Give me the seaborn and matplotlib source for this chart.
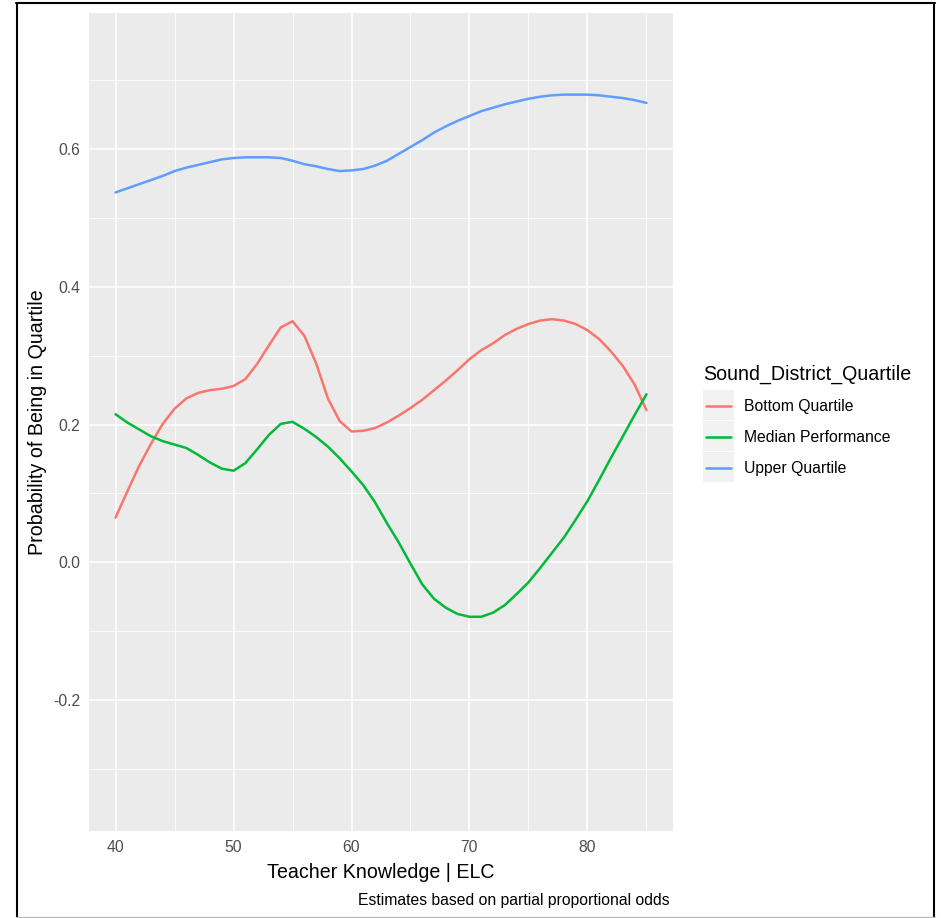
import numpy as np
import pandas as pd
import matplotlib
matplotlib.use("Agg")
import matplotlib.pyplot as plt
from matplotlib.patches import Rectangle
from matplotlib.lines import Line2D
from matplotlib.ticker import FixedLocator
import seaborn as sns

# Predicted probabilities by teacher knowledge score
knowledge = list(range(40, 86))

bottom_quartile = [
    0.065, 0.103, 0.140, 0.172, 0.201, 0.223, 0.238, 0.246, 0.250, 0.252,
    0.256, 0.266, 0.288, 0.315, 0.341, 0.350, 0.329, 0.289, 0.238, 0.205,
    0.190, 0.191, 0.195, 0.203, 0.213, 0.224, 0.236, 0.250, 0.264, 0.279,
    0.295, 0.308, 0.318, 0.330, 0.339, 0.346, 0.351, 0.353, 0.351, 0.346,
    0.337, 0.324, 0.306, 0.285, 0.258, 0.221,
]
median_performance = [
    0.215, 0.203, 0.193, 0.183, 0.176, 0.171, 0.166, 0.156, 0.145, 0.136,
    0.133, 0.144, 0.164, 0.185, 0.201, 0.204, 0.194, 0.182, 0.168, 0.151,
    0.132, 0.112, 0.087, 0.057, 0.029, -0.002, -0.032, -0.053, -0.066, -0.075,
    -0.079, -0.079, -0.073, -0.062, -0.046, -0.029, -0.008, 0.014, 0.036, 0.062,
    0.089, 0.120, 0.152, 0.183, 0.214, 0.244,
]
upper_quartile = [
    0.537, 0.543, 0.549, 0.555, 0.561, 0.568, 0.573, 0.577, 0.581, 0.585,
    0.587, 0.588, 0.588, 0.588, 0.587, 0.583, 0.578, 0.575, 0.571, 0.568,
    0.569, 0.571, 0.576, 0.583, 0.593, 0.603, 0.613, 0.624, 0.633, 0.641,
    0.648, 0.655, 0.660, 0.665, 0.669, 0.673, 0.676, 0.678, 0.679, 0.679,
    0.679, 0.678, 0.676, 0.674, 0.671, 0.667,
]

quartile_names = ["Bottom Quartile", "Median Performance", "Upper Quartile"]
quartile_colors = ["#F8766D", "#00BA38", "#619CFF"]

x_ticks = [40, 50, 60, 70, 80]
x_minor = [45, 55, 65, 75, 85]
y_ticks = [-0.2, 0.0, 0.2, 0.4, 0.6]
y_tick_labels = ["-0.2", "0.0", "0.2", "0.4", "0.6"]
y_minor = [-0.3, -0.1, 0.1, 0.3, 0.5, 0.7]

df = pd.concat([
    pd.DataFrame({"knowledge": knowledge, "prob": vals, "Sound_District_Quartile": name})
    for name, vals in zip(quartile_names, [bottom_quartile, median_performance, upper_quartile])
], ignore_index=True)

sns.set_theme(style="white")
plt.rcParams["font.family"] = ["Liberation Sans", "DejaVu Sans"]

W, H = 941, 918
fig = plt.figure(figsize=(W / 100, H / 100), dpi=100)

def fx(px):
    return px / W

def fy(py):
    return 1 - py / H

left, right, top, bottom = 89, 673, 13, 831
ax = fig.add_axes([fx(left), fy(bottom), fx(right) - fx(left), fy(top) - fy(bottom)])
ax.set_facecolor("#EBEBEB")
for s in ax.spines.values():
    s.set_visible(False)

sns.lineplot(
    data=df, x="knowledge", y="prob", hue="Sound_District_Quartile",
    hue_order=quartile_names, palette=dict(zip(quartile_names, quartile_colors)),
    linewidth=1.8, legend=False, ax=ax, zorder=3,
)

ax.set_xlim(37.75, 87.25)
ax.set_ylim(-0.390, 0.7975)

ax.xaxis.set_major_locator(FixedLocator(x_ticks))
ax.xaxis.set_minor_locator(FixedLocator(x_minor))
ax.yaxis.set_major_locator(FixedLocator(y_ticks))
ax.yaxis.set_minor_locator(FixedLocator(y_minor))
ax.set_xticklabels([str(t) for t in x_ticks])
ax.set_yticklabels(y_tick_labels)

ax.grid(which="major", color="white", linewidth=1.1)
ax.grid(which="minor", color="white", linewidth=0.55)
ax.set_axisbelow(True)

ax.tick_params(axis="both", which="major", length=3.5, width=0.8, color="#333333",
               labelsize=11.3, labelcolor="#4D4D4D", pad=3)
ax.tick_params(axis="both", which="minor", length=0)

ax.set_xlabel("Teacher Knowledge | ELC", fontsize=14.1, color="black")
ax.xaxis.label.set_va("center")
ax.xaxis.set_label_coords(0.5, (bottom - 873) / (bottom - top))
ax.set_ylabel("Probability of Being in Quartile", fontsize=14.1, color="black")
ax.yaxis.label.set_va("center")
ax.yaxis.set_label_coords((38 - left) / (right - left), 0.5)

fig.text(fx(670), fy(901), "Estimates based on partial proportional odds",
         ha="right", va="center", fontsize=11.3, color="black")

# Legend with grey key boxes
fig.text(fx(703), fy(374), "Sound_District_Quartile", ha="left", va="center",
         fontsize=14.1, color="black")
key_tops = [390, 421, 452]
for name, color, ktop in zip(quartile_names, quartile_colors, key_tops):
    fig.patches.append(Rectangle((fx(703), fy(ktop + 30)), fx(31), 30 / H,
                                 transform=fig.transFigure, facecolor="#F2F2F2",
                                 edgecolor="none", zorder=1))
    yc = ktop + 15.5
    fig.lines.append(Line2D([fx(706), fx(731)], [fy(yc), fy(yc)], transform=fig.transFigure,
                            color=color, linewidth=1.8, zorder=2))
    fig.text(fx(744), fy(yc + 1), name, ha="left", va="center", fontsize=11.3, color="black")

# Outer frame
fig.lines.append(Line2D([fx(17), fx(17)], [fy(3), fy(917)], transform=fig.transFigure,
                        color="black", linewidth=1.5))
fig.lines.append(Line2D([fx(16), fx(935)], [fy(3), fy(3)], transform=fig.transFigure,
                        color="black", linewidth=1.5))
fig.lines.append(Line2D([fx(934), fx(934)], [fy(3), fy(917)], transform=fig.transFigure,
                        color="black", linewidth=1.5))
fig.lines.append(Line2D([fx(16), fx(935)], [fy(916.5), fy(916.5)], transform=fig.transFigure,
                        color="#BBBBBB", linewidth=1.0))

fig.savefig("out.png", dpi=100)
